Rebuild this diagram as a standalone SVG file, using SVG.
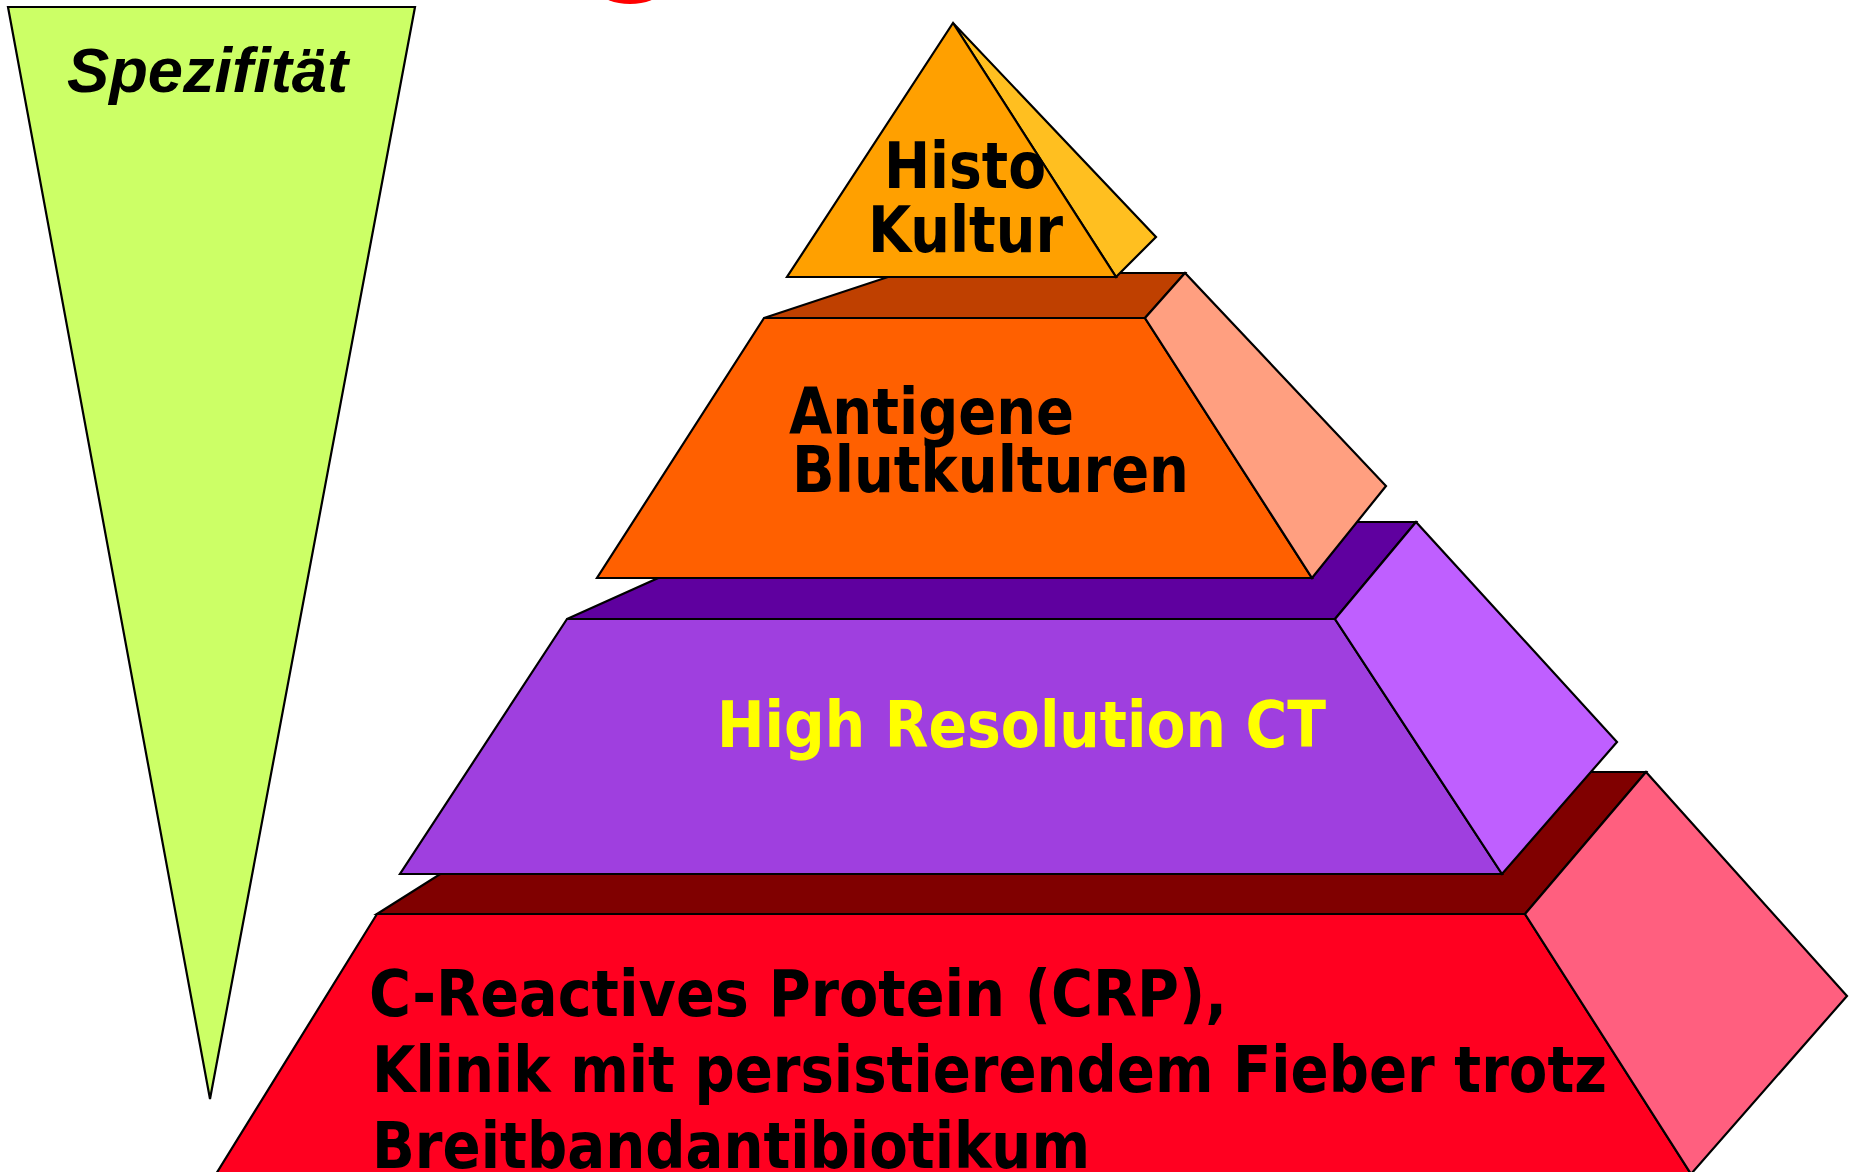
<svg xmlns="http://www.w3.org/2000/svg" width="1852" height="1172" viewBox="0 0 1852 1172">
<style>
.s{stroke:#000;stroke-width:2.2;stroke-linejoin:miter}
.t{font-family:"DejaVu Sans","Liberation Sans",sans-serif;font-weight:bold;font-size:64px;fill:#000}
</style>
<rect width="1852" height="1172" fill="#fff"/>
<ellipse cx="630" cy="-8" rx="29" ry="12" fill="#ff0000"/>
<g id="spezifitaet">
<polygon class="s" points="8,7 415,7 210,1099" fill="#CCFF66"/>
<text x="67" y="92" font-family="'Liberation Sans',Arial,sans-serif" font-weight="bold" font-style="italic" font-size="63" textLength="281" lengthAdjust="spacingAndGlyphs">Spezifität</text>
</g>
<g id="layer4">
<polygon class="s" points="377,914 602,772 1646,772 1525,914" fill="#800000"/>
<polygon class="s" points="377,914 1525,914 1691,1174 216,1174" fill="#FF0020"/>
<polygon class="s" points="1525,914 1646,772 1847,996 1691,1174" fill="#FF5F7F"/>
<text class="t" x="369" y="1016" textLength="858" lengthAdjust="spacingAndGlyphs">C-Reactives Protein (CRP),</text>
<text class="t" x="372" y="1092" textLength="1235" lengthAdjust="spacingAndGlyphs">Klinik mit persistierendem Fieber trotz</text>
<text class="t" x="372" y="1168" textLength="718" lengthAdjust="spacingAndGlyphs">Breitbandantibiotikum</text>
</g>
<g id="layer3">
<polygon class="s" points="567,619 783,522 1416,522 1335,619" fill="#5F009F"/>
<polygon class="s" points="567,619 1335,619 1502,874 400,874" fill="#9F3FDF"/>
<polygon class="s" points="1335,619 1416,522 1617,742 1502,874" fill="#BF5FFF"/>
<text class="t" x="717" y="747" textLength="609" lengthAdjust="spacingAndGlyphs" fill="#FFFF00" style="fill:#FFFF00">High Resolution CT</text>
</g>
<g id="layer2">
<polygon class="s" points="764,318 900,273 1185,273 1145,318" fill="#BF4000"/>
<polygon class="s" points="764,318 1145,318 1312,578 597,578" fill="#FF6000"/>
<polygon class="s" points="1145,318 1185,273 1386,486 1312,578" fill="#FF9F80"/>
<text class="t" x="789" y="434" textLength="285" lengthAdjust="spacingAndGlyphs">Antigene</text>
<text class="t" x="792" y="492" textLength="397" lengthAdjust="spacingAndGlyphs">Blutkulturen</text>
</g>
<g id="layer1">
<polygon class="s" points="953,23 1156,237 1116,277" fill="#FFBF20"/>
<polygon class="s" points="953,23 1116,277 787,277" fill="#FFA000"/>
<text class="t" x="884" y="188" textLength="162" lengthAdjust="spacingAndGlyphs">Histo</text>
<text class="t" x="868" y="252" textLength="195" lengthAdjust="spacingAndGlyphs">Kultur</text>
</g>
<g id="connectors"/>
</svg>
